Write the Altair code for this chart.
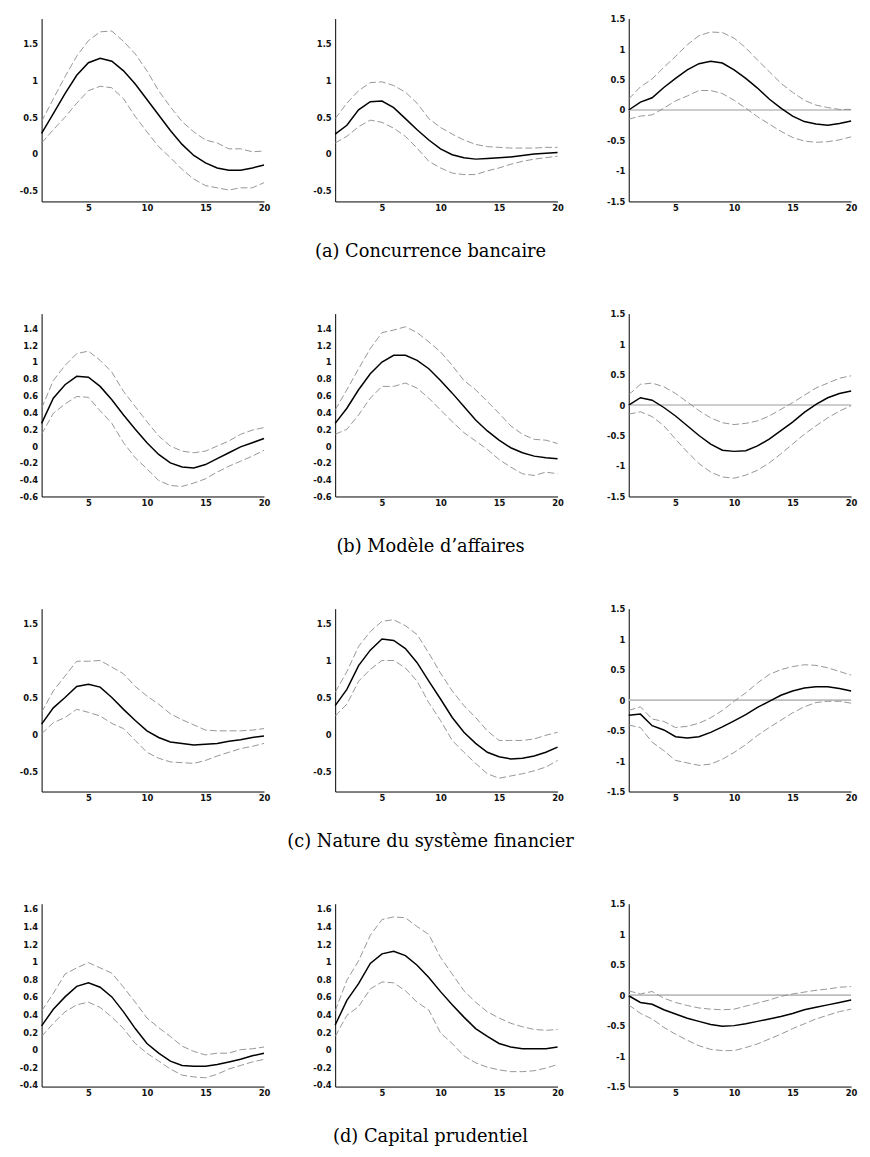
import altair as alt
import pandas as pd

steps = list(range(1, 21))
x_ticks = [5, 10, 15, 20]

captions = ["(a) Concurrence bancaire", "(b) Modèle d’affaires",
            "(c) Nature du système financier", "(d) Capital prudentiel"]

# ---- (a) Concurrence bancaire
a1_mid = [0.28, 0.55, 0.82, 1.07, 1.24, 1.30, 1.26, 1.13, 0.95, 0.74, 0.53, 0.32, 0.13, -0.02, -0.12, -0.19, -0.22, -0.22, -0.19, -0.15]
a1_up = [0.44, 0.75, 1.05, 1.33, 1.54, 1.66, 1.67, 1.53, 1.36, 1.13, 0.86, 0.64, 0.44, 0.30, 0.19, 0.15, 0.07, 0.07, 0.03, 0.04]
a1_lo = [0.15, 0.33, 0.50, 0.69, 0.86, 0.92, 0.90, 0.75, 0.51, 0.30, 0.10, -0.05, -0.21, -0.34, -0.43, -0.46, -0.49, -0.46, -0.46, -0.39]

a2_mid = [0.27, 0.39, 0.60, 0.71, 0.72, 0.63, 0.48, 0.33, 0.19, 0.07, -0.01, -0.05, -0.07, -0.06, -0.05, -0.04, -0.02, 0.00, 0.01, 0.02]
a2_up = [0.48, 0.69, 0.86, 0.97, 0.98, 0.93, 0.84, 0.69, 0.48, 0.36, 0.27, 0.19, 0.13, 0.10, 0.09, 0.08, 0.08, 0.08, 0.09, 0.09]
a2_lo = [0.15, 0.24, 0.37, 0.46, 0.43, 0.35, 0.24, 0.08, -0.10, -0.19, -0.26, -0.28, -0.28, -0.23, -0.19, -0.14, -0.10, -0.07, -0.05, -0.03]

a3_mid = [0.00, 0.13, 0.20, 0.37, 0.52, 0.66, 0.76, 0.80, 0.77, 0.66, 0.52, 0.36, 0.18, 0.03, -0.10, -0.19, -0.23, -0.25, -0.22, -0.18]
a3_up = [0.18, 0.38, 0.51, 0.70, 0.88, 1.07, 1.22, 1.28, 1.27, 1.18, 1.02, 0.82, 0.63, 0.44, 0.29, 0.16, 0.08, 0.04, 0.01, 0.01]
a3_lo = [-0.15, -0.10, -0.08, 0.03, 0.15, 0.23, 0.32, 0.32, 0.27, 0.16, 0.03, -0.11, -0.23, -0.35, -0.45, -0.51, -0.53, -0.52, -0.49, -0.44]

# ---- (b) Modèle d'affaires
b1_mid = [0.27, 0.57, 0.73, 0.83, 0.82, 0.71, 0.55, 0.37, 0.20, 0.04, -0.10, -0.20, -0.25, -0.26, -0.22, -0.15, -0.08, -0.01, 0.04, 0.09]
b1_up = [0.45, 0.78, 0.96, 1.10, 1.13, 1.02, 0.88, 0.65, 0.47, 0.29, 0.12, 0.00, -0.06, -0.08, -0.06, 0.00, 0.06, 0.14, 0.19, 0.22]
b1_lo = [0.14, 0.39, 0.50, 0.59, 0.58, 0.42, 0.27, 0.04, -0.14, -0.27, -0.41, -0.47, -0.48, -0.44, -0.39, -0.31, -0.24, -0.18, -0.12, -0.05]

b2_mid = [0.27, 0.45, 0.67, 0.86, 1.00, 1.08, 1.08, 1.02, 0.92, 0.78, 0.63, 0.47, 0.31, 0.18, 0.07, -0.02, -0.08, -0.12, -0.14, -0.15]
b2_up = [0.43, 0.67, 0.92, 1.16, 1.35, 1.38, 1.42, 1.35, 1.24, 1.12, 0.96, 0.78, 0.67, 0.53, 0.39, 0.24, 0.14, 0.08, 0.07, 0.03]
b2_lo = [0.14, 0.20, 0.37, 0.57, 0.71, 0.71, 0.75, 0.69, 0.57, 0.43, 0.29, 0.16, 0.06, -0.04, -0.16, -0.25, -0.33, -0.35, -0.31, -0.33]

b3_mid = [0.00, 0.12, 0.08, -0.04, -0.18, -0.34, -0.50, -0.64, -0.74, -0.76, -0.75, -0.67, -0.56, -0.42, -0.28, -0.12, 0.01, 0.12, 0.19, 0.23]
b3_up = [0.17, 0.34, 0.36, 0.30, 0.19, 0.05, -0.09, -0.21, -0.29, -0.32, -0.30, -0.26, -0.18, -0.07, 0.04, 0.16, 0.28, 0.36, 0.44, 0.48]
b3_lo = [-0.15, -0.11, -0.19, -0.34, -0.56, -0.77, -0.96, -1.10, -1.18, -1.20, -1.15, -1.07, -0.95, -0.80, -0.64, -0.48, -0.34, -0.21, -0.10, -0.01]

# ---- (c) Nature du système financier
c1_mid = [0.14, 0.36, 0.50, 0.65, 0.68, 0.64, 0.50, 0.34, 0.19, 0.05, -0.04, -0.10, -0.12, -0.14, -0.13, -0.12, -0.09, -0.07, -0.04, -0.02]
c1_up = [0.30, 0.59, 0.79, 0.99, 0.99, 1.00, 0.91, 0.82, 0.65, 0.52, 0.41, 0.28, 0.20, 0.13, 0.06, 0.05, 0.05, 0.05, 0.06, 0.08]
c1_lo = [0.01, 0.16, 0.23, 0.34, 0.30, 0.25, 0.15, 0.08, -0.08, -0.24, -0.32, -0.37, -0.38, -0.39, -0.35, -0.29, -0.24, -0.19, -0.16, -0.12]

c2_mid = [0.39, 0.61, 0.93, 1.14, 1.29, 1.27, 1.16, 0.97, 0.72, 0.48, 0.23, 0.03, -0.12, -0.24, -0.30, -0.33, -0.32, -0.29, -0.24, -0.17]
c2_up = [0.57, 0.85, 1.19, 1.39, 1.53, 1.55, 1.47, 1.35, 1.10, 0.83, 0.59, 0.39, 0.23, 0.05, -0.08, -0.08, -0.08, -0.06, -0.01, 0.03]
c2_lo = [0.25, 0.41, 0.72, 0.88, 1.00, 1.00, 0.90, 0.72, 0.43, 0.19, -0.08, -0.24, -0.39, -0.53, -0.59, -0.56, -0.53, -0.49, -0.44, -0.35]

c3_mid = [-0.25, -0.23, -0.42, -0.49, -0.60, -0.62, -0.60, -0.53, -0.44, -0.34, -0.24, -0.12, -0.02, 0.08, 0.15, 0.20, 0.22, 0.22, 0.19, 0.15]
c3_up = [-0.17, -0.11, -0.31, -0.35, -0.45, -0.43, -0.38, -0.29, -0.17, -0.02, 0.12, 0.28, 0.42, 0.50, 0.55, 0.58, 0.57, 0.53, 0.47, 0.41]
c3_lo = [-0.41, -0.45, -0.69, -0.83, -0.99, -1.03, -1.07, -1.05, -0.97, -0.86, -0.73, -0.58, -0.45, -0.33, -0.21, -0.11, -0.04, -0.02, -0.02, -0.05]

# ---- (d) Capital prudentiel
d1_mid = [0.27, 0.46, 0.60, 0.72, 0.76, 0.71, 0.60, 0.43, 0.24, 0.07, -0.04, -0.13, -0.18, -0.19, -0.19, -0.17, -0.14, -0.11, -0.07, -0.04]
d1_up = [0.44, 0.64, 0.86, 0.93, 0.99, 0.93, 0.87, 0.71, 0.54, 0.36, 0.25, 0.15, 0.04, -0.02, -0.06, -0.04, -0.04, 0.00, 0.01, 0.03]
d1_lo = [0.15, 0.30, 0.43, 0.51, 0.54, 0.48, 0.37, 0.24, 0.07, -0.04, -0.13, -0.22, -0.29, -0.31, -0.32, -0.28, -0.22, -0.18, -0.14, -0.11]

d2_mid = [0.28, 0.56, 0.75, 0.98, 1.09, 1.12, 1.07, 0.96, 0.82, 0.66, 0.51, 0.37, 0.24, 0.15, 0.07, 0.03, 0.01, 0.01, 0.01, 0.03]
d2_up = [0.44, 0.79, 1.01, 1.30, 1.48, 1.51, 1.50, 1.40, 1.31, 1.05, 0.86, 0.67, 0.54, 0.43, 0.36, 0.30, 0.26, 0.23, 0.22, 0.23]
d2_lo = [0.15, 0.39, 0.49, 0.69, 0.77, 0.76, 0.67, 0.54, 0.45, 0.19, 0.07, -0.07, -0.15, -0.20, -0.23, -0.25, -0.25, -0.24, -0.21, -0.17]

d3_mid = [-0.01, -0.12, -0.15, -0.24, -0.31, -0.38, -0.43, -0.48, -0.51, -0.50, -0.47, -0.43, -0.39, -0.35, -0.30, -0.24, -0.20, -0.16, -0.12, -0.08]
d3_up = [0.07, 0.02, 0.06, -0.05, -0.12, -0.17, -0.21, -0.23, -0.24, -0.23, -0.18, -0.13, -0.08, -0.02, 0.02, 0.05, 0.08, 0.10, 0.13, 0.14]
d3_lo = [-0.16, -0.30, -0.39, -0.53, -0.64, -0.74, -0.83, -0.89, -0.91, -0.91, -0.86, -0.80, -0.72, -0.64, -0.55, -0.47, -0.39, -0.33, -0.27, -0.23]

# y ticks and ranges
yt_a = [-0.5, 0, 0.5, 1, 1.5]
yt_b = [-0.6, -0.4, -0.2, 0, 0.2, 0.4, 0.6, 0.8, 1, 1.2, 1.4]
yt_c = [-0.5, 0, 0.5, 1, 1.5]
yt_d = [-0.4, -0.2, 0, 0.2, 0.4, 0.6, 0.8, 1, 1.2, 1.4, 1.6]
yt_3 = [-1.5, -1, -0.5, 0, 0.5, 1, 1.5]
dom_a = [-0.645, 1.84]
dom_b = [-0.6, 1.576]
dom_c = [-0.77, 1.70]
dom_d = [-0.42, 1.66]
dom_3 = [-1.5, 1.5]

PW, PH = 225, 185


def panel(mid, up, lo, ydom, yticks, zero=False, cap=None):
    df = pd.DataFrame({
        "t": steps * 3,
        "v": mid + up + lo,
        "s": ["mid"] * 20 + ["up"] * 20 + ["lo"] * 20,
    })
    xaxis_kw = dict(values=x_ticks, labelFlush=False, labelOverlap=False)
    if cap:
        xaxis_kw.update(title=cap, titleFont="DejaVu Serif", titleFontSize=18,
                        titleFontWeight="normal", titleColor="black",
                        titleX=96, titleY=56, titleAlign="center",
                        titleBaseline="alphabetic")
    else:
        xaxis_kw.update(title=None)
    xenc = alt.X("t:Q", scale=alt.Scale(domain=[1, 20], nice=False, zero=False),
                 axis=alt.Axis(**xaxis_kw))
    yenc = alt.Y("v:Q", scale=alt.Scale(domain=ydom, nice=False, zero=False),
                 axis=alt.Axis(values=yticks, title=None, labelExpr="'' + datum.value",
                               labelOverlap=False, labelFlush=False))
    base = alt.Chart(df)
    bands = base.transform_filter("datum.s != 'mid'").mark_line(
        color="#8a8a8a", strokeDash=[7, 3], strokeWidth=0.9
    ).encode(x=xenc, y=yenc, detail="s:N")
    center = base.transform_filter("datum.s == 'mid'").mark_line(
        color="black", strokeWidth=1.5
    ).encode(x=xenc, y=yenc)
    layers = [bands, center]
    if zero:
        zl = alt.Chart(pd.DataFrame({"v": [0]})).mark_rule(
            color="#bdbdbd", strokeWidth=1.6
        ).encode(y=yenc)
        layers = [zl] + layers
    return alt.layer(*layers).properties(width=PW, height=PH)


panels = [
    panel(a1_mid, a1_up, a1_lo, dom_a, yt_a),
    panel(a2_mid, a2_up, a2_lo, dom_a, yt_a, cap=captions[0]),
    panel(a3_mid, a3_up, a3_lo, dom_3, yt_3, zero=True),
    panel(b1_mid, b1_up, b1_lo, dom_b, yt_b),
    panel(b2_mid, b2_up, b2_lo, dom_b, yt_b, cap=captions[1]),
    panel(b3_mid, b3_up, b3_lo, dom_3, yt_3, zero=True),
    panel(c1_mid, c1_up, c1_lo, dom_c, yt_c),
    panel(c2_mid, c2_up, c2_lo, dom_c, yt_c, cap=captions[2]),
    panel(c3_mid, c3_up, c3_lo, dom_3, yt_3, zero=True),
    panel(d1_mid, d1_up, d1_lo, dom_d, yt_d),
    panel(d2_mid, d2_up, d2_lo, dom_d, yt_d, cap=captions[3]),
    panel(d3_mid, d3_up, d3_lo, dom_3, yt_3, zero=True),
]

chart = alt.concat(
    *panels, columns=3,
    spacing={"row": 113.5, "column": 72}, bounds="flush",
).properties(
    padding={"left": 11, "top": 0, "right": 5, "bottom": 0}
).configure_view(stroke=None).configure_axis(
    grid=False, ticks=False, domainColor="black", domainWidth=1,
    labelFont="DejaVu Sans", labelFontSize=8.5, labelFontWeight="bold", labelColor="#111111",
).configure_axisX(labelPadding=2).configure_axisY(labelPadding=4)

chart.save("out.html", embed_options={"renderer": "svg", "actions": False})
